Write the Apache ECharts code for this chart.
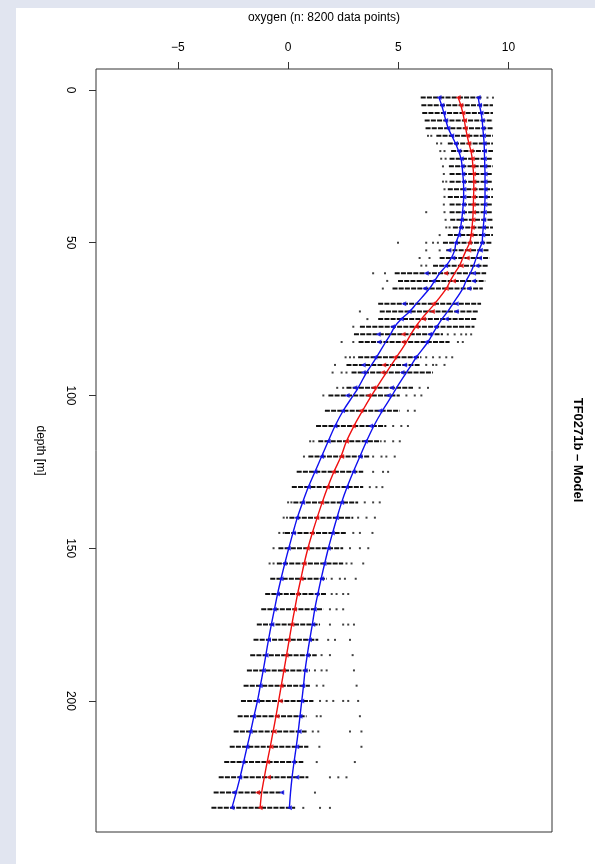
<!DOCTYPE html>
<html>
<head>
<meta charset="utf-8">
<script src="https://cdn.jsdelivr.net/npm/echarts@6/dist/echarts.min.js"></script>
<style>
  html, body { margin: 0; padding: 0; width: 595px; height: 864px; background: #e1e5f0; overflow: hidden; }
  #panel { position: absolute; left: 16px; top: 8px; width: 579px; height: 856px; background: #ffffff; }
  #chart { position: absolute; left: 0; top: 0; width: 595px; height: 864px; }
</style>
</head>
<body>
<div id="panel"></div>
<div id="chart"></div>
<script>
// ---- data ----
const depths = [2.5,5,7.5,10,12.5,15,17.5,20,22.5,25,27.5,30,32.5,35,37.5,40,42.5,45,47.5,50,52.5,55,57.5,60,62.5,65,70,72.5,75,77.5,80,82.5,87.5,90,92.5,97.5,100,105,110,115,120,125,130,135,140,145,150,155,160,165,170,175,180,185,190,195,200,205,210,215,220,225,230,235];

// dense part of each row of observations (min / max oxygen)
const denseLo = [6.02,6.05,6.09,6.2,6.24,6.73,7.25,7.4,7.33,7.3,7.33,7.33,7.25,7.25,7.33,7.33,7.36,7.48,7.25,7.03,7.18,6.88,6.58,4.84,4.99,4.74,4.09,4.16,4.09,3.26,2.99,3.2,3.18,2.65,2.88,2.65,1.83,1.67,1.27,1.37,0.92,0.39,0.17,0.24,0.06,-0.14,-0.44,-0.51,-0.81,-1.04,-1.22,-1.42,-1.57,-1.72,-1.87,-2.02,-2.14,-2.29,-2.47,-2.65,-2.9,-3.15,-3.38,-3.48];
const denseHi = [8.8,9.3,9.3,9.3,9.3,9.3,9.3,9.3,9.3,9.3,9.3,9.3,9.3,9.3,9.3,9.3,9.3,9.3,9.3,9.25,9.14,9.14,9.06,8.99,8.95,8.84,8.76,8.61,8.54,8.46,7.03,7.33,6.05,5.97,6.58,5.67,5.07,5.07,4.46,4.24,3.71,3.41,3.41,3.18,2.96,2.65,2.5,2.5,1.75,1.75,1.6,1.45,1.37,1.3,0.99,0.99,1.15,0.84,0.84,0.92,0.69,0.92,-0.21,0.32];

// isolated observations [depth, oxygen]
const outliers = [
  [2.5,9.05],[2.5,9.3],
  [15,6.35],[15,6.5],[17.5,6.76],[17.5,6.95],[20,6.91],[20,7.1],[22.5,6.95],[22.5,7.15],
  [25,7.03],[27.5,7.07],[30,7.03],[30,7.18],[32.5,7.1],[35,7.1],[37.5,7.07],
  [40,6.27],[40,7.1],[42.5,7.15],[45,7.18],[45,7.33],[47.5,6.88],
  [50,4.99],[50,6.27],[50,6.58],[50,6.8],[52.5,6.27],[52.5,6.88],[55,5.97],[55,6.42],[57.5,6.05],[57.5,6.27],
  [60,3.86],[60,4.4],[62.5,4.5],[65,4.3],[72.5,3.26],[75,3.6],[77.5,2.96],
  [80,7.25],[80,7.56],[80,7.86],[80,8.08],[80,8.31],
  [82.5,2.43],[82.5,2.96],[82.5,7.71],[82.5,7.93],
  [87.5,2.61],[87.5,2.81],[87.5,2.99],[87.5,6.27],[87.5,6.58],[87.5,6.88],[87.5,7.18],[87.5,7.45],
  [90,2.13],[90,6.27],[90,6.58],[90,6.73],[90,7.1],
  [92.5,2.02],[92.5,2.43],[92.5,2.65],
  [97.5,2.23],[97.5,2.5],[97.5,5.97],[97.5,6.35],
  [100,1.6],[100,5.37],[100,5.75],[100,6.05],
  [105,5.44],[105,5.75],[110,4.77],[110,5.14],[110,5.44],
  [115,1.0],[115,1.15],[115,4.39],[115,4.77],[115,5.07],
  [120,0.72],[120,3.86],[120,4.24],[120,4.46],[120,4.84],
  [125,3.86],[125,4.31],[125,4.54],[130,3.71],[130,4.01],[130,4.28],
  [135,0.0],[135,0.15],[135,3.48],[135,3.86],[135,4.16],
  [140,-0.2],[140,-0.05],[140,3.18],[140,3.56],[140,3.94],
  [145,-0.4],[145,-0.2],[145,2.96],[145,3.26],[145,3.83],
  [150,-0.66],[150,2.81],[150,3.26],[150,3.64],
  [155,-0.84],[155,-0.66],[155,2.65],[155,2.88],[155,3.41],
  [160,1.98],[160,2.35],[160,2.58],[160,3.07],
  [165,1.98],[165,2.2],[165,2.5],[165,2.73],
  [170,1.9],[170,2.2],[170,2.5],
  [175,1.9],[175,2.5],[175,2.73],[175,2.99],
  [180,1.82],[180,2.13],[180,2.81],
  [185,1.52],[185,1.9],[185,2.93],
  [190,1.22],[190,1.52],[190,1.75],[190,2.99],
  [195,1.3],[195,1.6],[195,3.11],
  [200,1.45],[200,1.75],[200,2.05],[200,2.5],[200,2.73],[200,3.18],
  [205,1.3],[205,1.48],[205,3.26],
  [210,1.12],[210,1.37],[210,2.81],[210,3.33],
  [215,1.42],[215,3.33],[220,1.3],[220,3.03],
  [225,1.9],[225,2.28],[225,2.65],[230,1.22],
  [235,0.69],[235,1.45],[235,1.9]
];

// per-row estimates (markers): mean, mean - sd, mean + sd
const obsMean = [7.72,7.84,7.93,8.01,8.04,8.13,8.2,8.31,8.36,8.39,8.42,8.43,8.43,8.42,8.4,8.42,8.39,8.36,8.31,8.23,8.2,8.13,7.86,7.15,7.51,7.18,6.58,6.55,6.15,5.82,5.22,5.22,4.84,4.34,4.28,3.89,3.65,3.3,2.96,2.65,2.43,2.05,1.78,1.52,1.3,1.07,0.87,0.72,0.59,0.42,0.29,0.17,0.01,-0.09,-0.21,-0.32,-0.36,-0.51,-0.63,-0.78,-0.93,-0.89,-1.39,-1.27];
const obsLow  = [6.85,6.98,7.06,7.15,7.25,7.43,7.6,7.75,7.86,7.9,7.93,7.96,7.98,7.98,7.95,7.92,7.87,7.83,7.74,7.6,7.3,7.48,7.15,6.27,6.58,6.2,5.25,5.49,5.14,4.74,4.09,4.12,3.94,3.41,3.41,3.03,2.68,2.47,2.13,1.82,1.52,1.22,0.92,0.66,0.39,0.24,0.01,-0.18,-0.32,-0.48,-0.63,-0.74,-0.89,-1.0,-1.12,-1.27,-1.39,-1.57,-1.72,-1.87,-2.05,-2.2,-2.47,-2.55];
const obsHigh = [8.63,8.69,8.76,8.81,8.84,8.87,8.9,8.91,8.91,8.93,8.94,8.94,8.94,8.94,8.93,8.91,8.88,8.87,8.84,8.79,8.73,8.69,8.57,8.42,8.42,8.2,7.63,7.63,7.18,6.7,6.43,6.27,5.75,5.29,5.17,4.69,4.55,4.16,3.74,3.51,3.26,2.96,2.65,2.43,2.2,2.01,1.82,1.63,1.52,1.3,1.19,1.12,0.97,0.87,0.77,0.66,0.62,0.54,0.5,0.39,0.24,0.39,-0.29,0.06];

// model curves
const modelMean = [7.72,7.84,7.93,8.0,8.06,8.13,8.21,8.3,8.36,8.39,8.42,8.43,8.43,8.42,8.41,8.4,8.38,8.35,8.31,8.24,8.08,7.93,7.78,7.56,7.36,7.18,6.65,6.35,6.05,5.79,5.57,5.37,4.92,4.69,4.46,4.01,3.79,3.38,2.99,2.65,2.4,2.08,1.8,1.55,1.32,1.1,0.9,0.73,0.58,0.43,0.3,0.17,0.05,-0.07,-0.19,-0.31,-0.43,-0.55,-0.68,-0.81,-0.95,-1.08,-1.2,-1.27];
const modelLow  = [6.85,6.97,7.07,7.16,7.27,7.43,7.6,7.74,7.85,7.9,7.93,7.96,7.97,7.97,7.95,7.92,7.88,7.83,7.75,7.62,7.56,7.41,7.18,6.88,6.65,6.42,5.82,5.52,5.14,4.84,4.645,4.43,4.01,3.79,3.56,3.18,2.96,2.5,2.13,1.82,1.52,1.22,0.92,0.66,0.42,0.22,0.03,-0.15,-0.32,-0.48,-0.62,-0.76,-0.89,-1.01,-1.13,-1.26,-1.39,-1.55,-1.7,-1.86,-2.02,-2.18,-2.36,-2.55];
const modelHigh = [8.63,8.69,8.76,8.81,8.84,8.87,8.9,8.91,8.92,8.93,8.94,8.94,8.94,8.94,8.93,8.91,8.89,8.86,8.83,8.8,8.66,8.54,8.42,8.27,8.08,7.93,7.48,7.25,6.98,6.76,6.55,6.35,5.82,5.6,5.37,4.92,4.72,4.28,3.89,3.56,3.26,2.96,2.68,2.43,2.22,2.02,1.83,1.66,1.5,1.35,1.21,1.1,0.98,0.87,0.77,0.7,0.62,0.54,0.46,0.37,0.27,0.18,0.11,0.06];

const xTicks = [-5, 0, 5, 10];
const yTicks = [0, 50, 100, 150, 200];

// ---- chart ----
const FONT = '"Liberation Sans", Arial, Helvetica, sans-serif';
const chart = echarts.init(document.getElementById('chart'), null, { renderer: 'canvas' });
const pair = (xs) => depths.map((d, i) => [xs[i], d]);
const minus = (v) => String(v).replace('-', '\u2212');

const option = {
  animation: false,
  backgroundColor: 'transparent',
  textStyle: { fontFamily: FONT },
  grid: { left: 96, right: 43, top: 69, bottom: 32, show: true, borderColor: '#333', borderWidth: 1, backgroundColor: 'transparent' },
  xAxis: {
    type: 'value', position: 'top', min: -8.72, max: 11.98,
    name: 'oxygen (n: 8200 data points)', nameLocation: 'middle', nameGap: 45,
    nameTextStyle: { fontSize: 12, color: '#000', fontFamily: FONT },
    axisLine: { show: false, onZero: false },
    axisTick: { show: true, length: 7, customValues: xTicks, lineStyle: { color: '#333' } },
    axisLabel: { show: true, customValues: xTicks, margin: 15, fontSize: 12, color: '#000', fontFamily: FONT, formatter: minus },
    splitLine: { show: false }
  },
  yAxis: {
    type: 'value', inverse: true, min: -6.87, max: 242.9,
    name: 'depth [m]', nameLocation: 'middle', nameGap: 50, nameRotate: -90,
    nameTextStyle: { fontSize: 12, color: '#000', fontFamily: FONT },
    axisLine: { show: false, onZero: false },
    axisTick: { show: true, length: 7, customValues: yTicks, lineStyle: { color: '#333' } },
    axisLabel: { show: true, customValues: yTicks, rotate: -90, margin: 20, fontSize: 12, color: '#000', fontFamily: FONT },
    splitLine: { show: false }
  },
  graphic: [{
    type: 'text', x: 578, y: 450, rotation: -Math.PI / 2,
    style: { text: 'TF0271b \u2013 Model', font: 'bold 13px ' + FONT, fill: '#000', textAlign: 'center', textVerticalAlign: 'middle' }
  }],
  series: [
    {
      type: 'custom', z: 1,
      encode: { x: [0, 1], y: 2 },
      data: depths.map((d, i) => [denseLo[i], denseHi[i], d]),
      renderItem: function (params, api) {
        const dep = api.value(2);
        const p1 = api.coord([api.value(0), dep]);
        const p2 = api.coord([api.value(1), dep]);
        return { type: 'line', shape: { x1: p1[0], y1: p1[1], x2: p2[0], y2: p2[1] },
                 style: { stroke: '#111', lineWidth: 2, lineDash: [5, 1.2] } };
      }
    },
    {
      type: 'scatter', z: 1, symbol: 'rect', symbolSize: [2, 2],
      itemStyle: { color: '#111' },
      data: outliers.map(p => [p[1], p[0]])
    },
    { type: 'line', z: 3, smooth: 0.35, showSymbol: false, data: pair(modelLow), lineStyle: { color: '#1010f0', width: 1.4 } },
    { type: 'line', z: 3, smooth: 0.35, showSymbol: false, data: pair(modelHigh), lineStyle: { color: '#1010f0', width: 1.4 } },
    { type: 'line', z: 3, smooth: 0.35, showSymbol: false, data: pair(modelMean), lineStyle: { color: '#f01010', width: 1.4 } },
    { type: 'scatter', z: 4, symbol: 'triangle', symbolRotate: 90, symbolSize: 5, itemStyle: { color: '#1010f0' }, data: pair(obsLow) },
    { type: 'scatter', z: 4, symbol: 'triangle', symbolRotate: 90, symbolSize: 5, itemStyle: { color: '#1010f0' }, data: pair(obsHigh) },
    { type: 'scatter', z: 4, symbol: 'triangle', symbolRotate: 90, symbolSize: 5, itemStyle: { color: '#f01010' }, data: pair(obsMean) }
  ]
};
chart.setOption(option);
</script>
</body>
</html>
